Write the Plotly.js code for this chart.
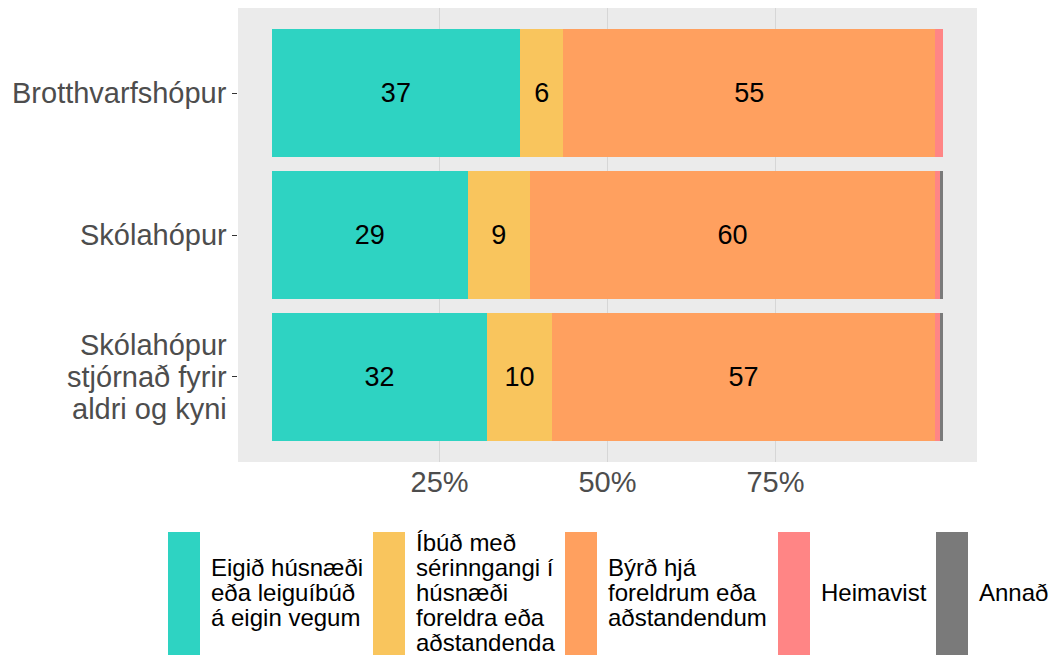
<!DOCTYPE html>
<html>
<head>
<meta charset="utf-8">
<script src="https://cdn.plot.ly/plotly-3.0.1.min.js"></script>
<style>html,body{margin:0;padding:0;background:#fff;}#chart{width:1054px;height:655px;}</style>
</head>
<body>
<div id="chart"></div>
<script>
// Categories (top to bottom)
const categories = ["Brotthvarfshópur", "Skólahópur", "Skólahópur<br>stjórnað fyrir<br>aldri og kyni"];
// Series names (legend labels)
const seriesNames = [
  "Eigið húsnæði<br>eða leiguíbúð<br>á eigin vegum",
  "Íbúð með<br>sérinngangi í<br>húsnæði<br>foreldra eða<br>aðstandenda",
  "Býrð hjá<br>foreldrum eða<br>aðstandendum",
  "Heimavist",
  "Annað"
];
// Percent values per series, in category order
const eigid      = [37.0, 29.2, 32.1];
const ibud       = [6.4, 9.2, 9.6];
const byrd       = [55.4, 60.4, 57.1];
const heimavist  = [1.2, 0.7, 0.7];
const annad      = [0.0, 0.5, 0.5];
const seriesValues = [eigid, ibud, byrd, heimavist, annad];
const colors = ["#2ED3C2", "#F9C55D", "#FFA05F", "#FF8585", "#7A7A7A"];
const xTickVals = [25, 50, 75];
const xTickText = ["25%", "50%", "75%"];

const FONT = "'Liberation Sans', Arial, sans-serif";

const traces = seriesValues.map((vals, i) => ({
  type: "bar",
  orientation: "h",
  name: seriesNames[i],
  y: categories,
  x: vals,
  marker: {color: colors[i], line: {width: 0}},
  text: vals.map(v => v >= 3 ? String(Math.round(v)) : ""),
  textposition: "inside",
  insidetextanchor: "middle",
  textfont: {family: FONT, size: 27, color: "#000"},
  constraintext: "none",
  hoverinfo: "skip",
  showlegend: false
}));

// Layout geometry in pixels (panel)
const W = 1054, H = 655;
const panel = {l: 238, r: 977, t: 8, b: 462};
const px2x = x => (x - panel.l) / (panel.r - panel.l);
const px2y = y => (panel.b - y) / (panel.b - panel.t);

const shapes = [], annotations = [];

// Category labels (one annotation per line, tight line spacing)
const catLineGap = 32;
categories.forEach((c) => {
  const lines = c.split("<br>");
  lines.forEach((ln, j) => {
    annotations.push({
      xref: "paper", yref: "y",
      x: px2x(229), y: c,
      xanchor: "right", yanchor: "middle", align: "right",
      yshift: -(j - (lines.length - 1) / 2) * catLineGap,
      text: ln, showarrow: false,
      font: {family: FONT, size: 29, color: "#4D4D4D"}
    });
  });
});

// Legend drawn manually (tall keys, multi-line labels)
const keyX = [168, 373, 565, 778, 936];
const keyW = 32, keyTop = 532, keyBot = 672;
const legLineGap = 25, legCenter = 592;
seriesNames.forEach((nm, i) => {
  shapes.push({
    type: "rect", xref: "paper", yref: "paper",
    x0: px2x(keyX[i]), x1: px2x(keyX[i] + keyW),
    y0: px2y(keyBot), y1: px2y(keyTop),
    fillcolor: colors[i], line: {width: 0}
  });
  const lines = nm.split("<br>");
  lines.forEach((ln, j) => {
    annotations.push({
      xref: "paper", yref: "paper",
      x: px2x(keyX[i] + keyW + 9),
      y: px2y(legCenter + (j - (lines.length - 1) / 2) * legLineGap),
      xanchor: "left", yanchor: "middle", align: "left",
      text: ln, showarrow: false,
      font: {family: FONT, size: 24, color: "#000"}
    });
  });
});

const layout = {
  width: W, height: H,
  margin: {l: panel.l, r: W - panel.r, t: panel.t, b: H - panel.b, pad: 0},
  paper_bgcolor: "#fff",
  plot_bgcolor: "#EBEBEB",
  barmode: "stack",
  bargap: 0.1,
  font: {family: FONT},
  xaxis: {
    range: [-5, 105],
    tickvals: xTickVals, ticktext: xTickText,
    showgrid: true, gridcolor: "#D6D6D6", gridwidth: 1,
    zeroline: false, showline: false, ticks: "",
    ticklabelstandoff: 0,
    tickfont: {family: FONT, size: 29, color: "#4D4D4D"},
    fixedrange: true
  },
  yaxis: {
    type: "category",
    range: [2.6, -0.6],
    showgrid: false, zeroline: false, showline: false,
    ticks: "outside", ticklen: 5, tickcolor: "#333", tickwidth: 1,
    showticklabels: false,
    fixedrange: true
  },
  shapes: shapes,
  annotations: annotations,
  showlegend: false
};

Plotly.newPlot("chart", traces, layout, {displayModeBar: false, staticPlot: true});
</script>
</body>
</html>
